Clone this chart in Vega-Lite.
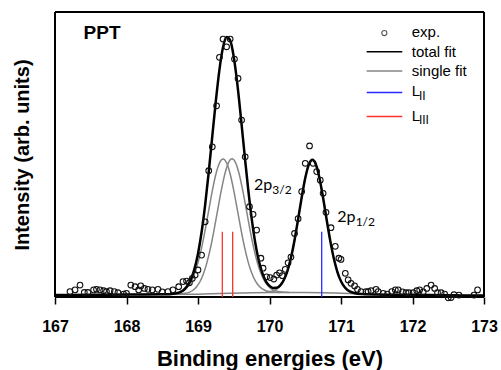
{
  "$schema": "https://vega.github.io/schema/vega-lite/v6.json",
  "width": 429,
  "height": 285,
  "autosize": {"type": "none"},
  "padding": {"left": 55, "top": 12, "right": 17, "bottom": 73},
  "background": "white",
  "config": {"view": {"stroke": null}, "font": "Liberation Sans"},
  "datasets": {
    "exp": [
      {"x":167.21,"y":1.9},{"x":167.28,"y":2.5},{"x":167.35,"y":4.2},{"x":167.41,"y":1.6},{"x":167.46,"y":1.6},
      {"x":167.54,"y":2.5},{"x":167.58,"y":2.7},{"x":167.63,"y":2.5},{"x":167.68,"y":2.2},{"x":167.72,"y":1.9},
      {"x":167.77,"y":2.2},{"x":167.83,"y":1.9},{"x":167.88,"y":1.5},{"x":167.96,"y":1.0},{"x":168.0,"y":1.3},
      {"x":168.06,"y":4.2},{"x":168.12,"y":3.6},{"x":168.17,"y":2.5},{"x":168.2,"y":3.9},{"x":168.25,"y":3.0},
      {"x":168.3,"y":2.7},{"x":168.36,"y":2.5},{"x":168.44,"y":2.7},{"x":168.5,"y":1.8},{"x":168.58,"y":1.9},
      {"x":168.65,"y":2.5},{"x":168.73,"y":3.6},{"x":168.79,"y":5.4},{"x":168.84,"y":5.6},{"x":168.88,"y":5.0},
      {"x":168.92,"y":6.5},{"x":168.96,"y":7.7},{"x":169.0,"y":9.5},{"x":169.05,"y":14.7},{"x":169.1,"y":26.4},
      {"x":169.15,"y":44.3},{"x":169.2,"y":52.7},{"x":169.26,"y":67.1},{"x":169.3,"y":84.1},{"x":169.35,"y":90.5},
      {"x":169.4,"y":87.8},{"x":169.45,"y":90.5},{"x":169.51,"y":83.5},{"x":169.56,"y":76.7},{"x":169.61,"y":62.1},
      {"x":169.66,"y":49.2},{"x":169.72,"y":31.7},{"x":169.77,"y":29.0},{"x":169.82,"y":23.5},{"x":169.88,"y":13.6},
      {"x":169.91,"y":10.1},{"x":169.96,"y":7.1},{"x":170.01,"y":6.8},{"x":170.06,"y":6.3},{"x":170.1,"y":7.7},
      {"x":170.14,"y":8.5},{"x":170.18,"y":7.5},{"x":170.22,"y":9.7},{"x":170.26,"y":12.0},{"x":170.3,"y":14.0},
      {"x":170.35,"y":22.3},{"x":170.4,"y":27.5},{"x":170.45,"y":37.0},{"x":170.5,"y":46.9},{"x":170.56,"y":53.0},
      {"x":170.61,"y":46.9},{"x":170.66,"y":44.0},{"x":170.71,"y":41.0},{"x":170.75,"y":36.4},{"x":170.79,"y":29.7},
      {"x":170.86,"y":24.3},{"x":170.92,"y":17.8},{"x":170.97,"y":13.6},{"x":171.0,"y":13.2},{"x":171.06,"y":8.3},
      {"x":171.1,"y":6.0},{"x":171.14,"y":4.8},{"x":171.19,"y":3.9},{"x":171.23,"y":2.7},{"x":171.28,"y":1.9},
      {"x":171.35,"y":1.9},{"x":171.38,"y":1.9},{"x":171.42,"y":2.2},{"x":171.49,"y":2.7},{"x":171.52,"y":1.9},
      {"x":171.59,"y":1.3},{"x":171.65,"y":1.0},{"x":171.71,"y":1.9},{"x":171.76,"y":2.5},{"x":171.8,"y":2.5},
      {"x":171.86,"y":1.8},{"x":171.91,"y":1.5},{"x":171.95,"y":1.5},{"x":172.01,"y":1.5},{"x":172.06,"y":2.2},
      {"x":172.1,"y":2.5},{"x":172.15,"y":1.8},{"x":172.2,"y":3.0},{"x":172.26,"y":4.2},{"x":172.31,"y":3.0},
      {"x":172.35,"y":1.5},{"x":172.4,"y":1.5},{"x":172.45,"y":1.0},{"x":172.5,"y":-0.3},{"x":172.54,"y":-0.2},
      {"x":172.58,"y":0.8},{"x":172.65,"y":0.7},{"x":172.86,"y":0.7},{"x":172.91,"y":2.5}
    ],
    "total": [
      {"x":167,"y":0.7},{"x":167.5,"y":0.78},{"x":168,"y":0.85},{"x":168.5,"y":0.94},{"x":168.55,"y":0.95},
      {"x":168.6,"y":1.0},{"x":168.65,"y":1.11},{"x":168.7,"y":1.3},{"x":168.75,"y":1.7},{"x":168.8,"y":2.47},
      {"x":168.85,"y":3.84},{"x":168.9,"y":6.16},{"x":168.95,"y":9.8},{"x":169,"y":15.21},{"x":169.05,"y":22.71},
      {"x":169.1,"y":32.36},{"x":169.15,"y":43.85},{"x":169.2,"y":56.43},{"x":169.25,"y":68.89},{"x":169.3,"y":79.79},
      {"x":169.35,"y":87.6},{"x":169.4,"y":91.21},{"x":169.45,"y":90.02},{"x":169.5,"y":84.26},{"x":169.55,"y":74.81},
      {"x":169.6,"y":62.99},{"x":169.65,"y":50.36},{"x":169.7,"y":38.25},{"x":169.75,"y":27.68},{"x":169.8,"y":19.15},
      {"x":169.85,"y":12.78},{"x":169.9,"y":8.36},{"x":169.95,"y":5.52},{"x":170,"y":3.91},{"x":170.05,"y":3.18},
      {"x":170.1,"y":3.22},{"x":170.15,"y":4.09},{"x":170.2,"y":5.96},{"x":170.25,"y":9.12},{"x":170.3,"y":13.76},
      {"x":170.35,"y":19.93},{"x":170.4,"y":27.25},{"x":170.45,"y":34.91},{"x":170.5,"y":41.74},{"x":170.55,"y":46.46},
      {"x":170.6,"y":48.13},{"x":170.65,"y":46.39},{"x":170.7,"y":41.6},{"x":170.75,"y":34.74},{"x":170.8,"y":27.04},
      {"x":170.85,"y":19.69},{"x":170.9,"y":13.48},{"x":170.95,"y":8.77},{"x":171,"y":5.52},{"x":171.05,"y":3.48},
      {"x":171.1,"y":2.29},{"x":171.15,"y":1.66},{"x":171.2,"y":1.33},{"x":171.3,"y":1.07},{"x":171.5,"y":0.9},
      {"x":172,"y":0.77},{"x":172.5,"y":0.63},{"x":173,"y":0.5}
    ],
    "single": [
      {"curve":"bg","x":167,"y":0.7},{"curve":"bg","x":168,"y":0.85},{"curve":"bg","x":169,"y":1.0},{"curve":"bg","x":170,"y":1.6},
      {"curve":"bg","x":170.5,"y":1.6},{"curve":"bg","x":171.5,"y":0.9},{"curve":"bg","x":173,"y":0.5},
      {"curve":"p1","x":168.55,"y":0.95},{"curve":"p1","x":168.6,"y":1.0},{"curve":"p1","x":168.65,"y":1.09},{"curve":"p1","x":168.7,"y":1.27},
      {"curve":"p1","x":168.75,"y":1.61},{"curve":"p1","x":168.8,"y":2.26},{"curve":"p1","x":168.85,"y":3.39},{"curve":"p1","x":168.9,"y":5.23},
      {"curve":"p1","x":168.95,"y":8.02},{"curve":"p1","x":169.0,"y":11.99},{"curve":"p1","x":169.05,"y":17.21},{"curve":"p1","x":169.1,"y":23.5},
      {"curve":"p1","x":169.15,"y":30.42},{"curve":"p1","x":169.2,"y":37.23},{"curve":"p1","x":169.25,"y":43.05},{"curve":"p1","x":169.3,"y":47.0},
      {"curve":"p1","x":169.35,"y":48.41},{"curve":"p1","x":169.4,"y":47.06},{"curve":"p1","x":169.45,"y":43.17},{"curve":"p1","x":169.5,"y":37.41},
      {"curve":"p1","x":169.55,"y":30.66},{"curve":"p1","x":169.6,"y":23.8},{"curve":"p1","x":169.65,"y":17.57},{"curve":"p1","x":169.7,"y":12.41},
      {"curve":"p1","x":169.75,"y":8.48},{"curve":"p1","x":169.8,"y":5.72},{"curve":"p1","x":169.85,"y":3.92},{"curve":"p1","x":169.9,"y":2.83},
      {"curve":"p1","x":169.95,"y":2.22},{"curve":"p1","x":170.0,"y":1.91},{"curve":"p1","x":170.05,"y":1.74},{"curve":"p1","x":170.1,"y":1.66},
      {"curve":"p1","x":170.15,"y":1.62},
      {"curve":"p2","x":168.675,"y":0.97},{"curve":"p2","x":168.725,"y":1.02},{"curve":"p2","x":168.775,"y":1.11},{"curve":"p2","x":168.825,"y":1.28},
      {"curve":"p2","x":168.875,"y":1.63},{"curve":"p2","x":168.925,"y":2.28},{"curve":"p2","x":168.975,"y":3.41},{"curve":"p2","x":169.025,"y":5.26},
      {"curve":"p2","x":169.075,"y":8.08},{"curve":"p2","x":169.125,"y":12.07},{"curve":"p2","x":169.175,"y":17.29},{"curve":"p2","x":169.225,"y":23.58},
      {"curve":"p2","x":169.275,"y":30.5},{"curve":"p2","x":169.325,"y":37.31},{"curve":"p2","x":169.375,"y":43.13},{"curve":"p2","x":169.425,"y":47.08},
      {"curve":"p2","x":169.475,"y":48.49},{"curve":"p2","x":169.525,"y":47.14},{"curve":"p2","x":169.575,"y":43.25},{"curve":"p2","x":169.625,"y":37.49},
      {"curve":"p2","x":169.675,"y":30.74},{"curve":"p2","x":169.725,"y":23.88},{"curve":"p2","x":169.775,"y":17.65},{"curve":"p2","x":169.825,"y":12.49},
      {"curve":"p2","x":169.875,"y":8.56},{"curve":"p2","x":169.925,"y":5.8},{"curve":"p2","x":169.975,"y":4.0},{"curve":"p2","x":170.025,"y":2.89},
      {"curve":"p2","x":170.075,"y":2.25},{"curve":"p2","x":170.125,"y":1.91},{"curve":"p2","x":170.175,"y":1.74},{"curve":"p2","x":170.225,"y":1.66},
      {"curve":"p2","x":170.275,"y":1.62},
      {"curve":"p3","x":169.95,"y":1.65},{"curve":"p3","x":170.0,"y":1.82},{"curve":"p3","x":170.05,"y":2.11},{"curve":"p3","x":170.1,"y":2.71},
      {"curve":"p3","x":170.15,"y":3.86},{"curve":"p3","x":170.2,"y":5.87},{"curve":"p3","x":170.25,"y":9.08},{"curve":"p3","x":170.3,"y":13.76},
      {"curve":"p3","x":170.35,"y":19.93},{"curve":"p3","x":170.4,"y":27.25},{"curve":"p3","x":170.45,"y":34.91},{"curve":"p3","x":170.5,"y":41.74},
      {"curve":"p3","x":170.55,"y":46.46},{"curve":"p3","x":170.6,"y":48.13},{"curve":"p3","x":170.65,"y":46.39},{"curve":"p3","x":170.7,"y":41.6},
      {"curve":"p3","x":170.75,"y":34.74},{"curve":"p3","x":170.8,"y":27.04},{"curve":"p3","x":170.85,"y":19.69},{"curve":"p3","x":170.9,"y":13.48},
      {"curve":"p3","x":170.95,"y":8.77},{"curve":"p3","x":171.0,"y":5.52},{"curve":"p3","x":171.05,"y":3.48},{"curve":"p3","x":171.1,"y":2.29},
      {"curve":"p3","x":171.15,"y":1.66},{"curve":"p3","x":171.2,"y":1.33},{"curve":"p3","x":171.25,"y":1.16}
    ],
    "levels": [
      {"level":"LIII","x":169.34,"top":22.9},
      {"level":"LIII","x":169.485,"top":22.9},
      {"level":"LII","x":170.73,"top":22.9}
    ],
    "frameSides": [{"x":167},{"x":173}],
    "frameEnds": [{"y":0},{"y":100}],
    "legendKeys": [
      {"item":"total fit","x":171.359,"x2":171.857,"y":86.07},
      {"item":"single fit","x":171.359,"x2":171.857,"y":79.3},
      {"item":"LII","x":171.359,"x2":171.857,"y":71.75},
      {"item":"LIII","x":171.359,"x2":171.857,"y":63.3}
    ],
    "legendDot": [{"item":"exp.","x":171.606,"y":92.6}],
    "legendLabels": [
      {"t":"exp.","x":171.989,"y":91.3},
      {"t":"total fit","x":171.989,"y":84.3},
      {"t":"single fit","x":171.989,"y":77.5},
      {"t":"L","x":171.989,"y":70.5},
      {"t":"L","x":171.989,"y":61.9}
    ],
    "legendSubs": [
      {"t":"II","x":172.09,"y":69.1},
      {"t":"III","x":172.09,"y":60.6}
    ],
    "sample": [{"t":"PPT","x":167.40,"y":90.7}],
    "peakLabels": [
      {"t":"2p","x":169.783,"y":37.6},
      {"t":"2p","x":170.948,"y":26.2}
    ],
    "peakSubs": [
      {"t":"3/2","x":170.04,"y":36.1},
      {"t":"1/2","x":171.205,"y":24.8}
    ]
  },
  "layer": [
    {
      "data": {"name": "single"},
      "mark": {"type": "line", "color": "#858585", "strokeWidth": 1.5, "interpolate": "monotone"},
      "encoding": {
        "x": {
          "field": "x", "type": "quantitative",
          "scale": {"domain": [167, 173], "nice": false, "zero": false, "padding": 0},
          "axis": {
            "values": [167,167.5,168,168.5,169,169.5,170,170.5,171,171.5,172,172.5,173],
            "labelExpr": "datum.value % 1 === 0 ? datum.label : ''",
            "format": "d",
            "tickSize": {"condition": {"test": "datum.value % 1 === 0", "value": 7}, "value": 4},
            "tickColor": "black", "tickWidth": 1.5,
            "domain": false, "grid": false,
            "labelFont": "Liberation Sans", "labelFontWeight": "bold", "labelFontSize": 16, "labelColor": "black",
            "labelPadding": 14, "labelFlush": false, "labelOverlap": false,
            "title": "Binding energies (eV)",
            "titleFont": "Liberation Sans", "titleFontSize": 22, "titleFontWeight": "bold", "titleColor": "black",
            "titlePadding": 14
          }
        },
        "y": {
          "field": "y", "type": "quantitative",
          "scale": {"domain": [0, 100], "nice": false, "zero": false, "padding": 0},
          "axis": {
            "title": "Intensity (arb. units)", "ticks": false, "labels": false, "domain": false, "grid": false,
            "titleFont": "Liberation Sans", "titleFontSize": 20, "titleFontWeight": "bold", "titleColor": "black",
            "titlePadding": 23
          }
        },
        "detail": {"field": "curve", "type": "nominal"}
      }
    },
    {
      "data": {"name": "frameSides"},
      "mark": {"type": "rule", "color": "black", "strokeWidth": 2},
      "encoding": {"x": {"field": "x", "type": "quantitative"}}
    },
    {
      "data": {"name": "frameEnds"},
      "mark": {"type": "rule", "color": "black", "strokeWidth": 2},
      "encoding": {"y": {"field": "y", "type": "quantitative"}}
    },
    {
      "data": {"name": "total"},
      "mark": {"type": "line", "color": "black", "strokeWidth": 2.5, "interpolate": "monotone"},
      "encoding": {
        "x": {"field": "x", "type": "quantitative"},
        "y": {"field": "y", "type": "quantitative"}
      }
    },
    {
      "data": {"name": "levels"},
      "mark": {"type": "bar", "width": 1.3},
      "encoding": {
        "x": {"field": "x", "type": "quantitative"},
        "y": {"field": "top", "type": "quantitative"},
        "color": {"field": "level", "type": "nominal", "scale": {"domain": ["LII", "LIII", "total fit", "single fit"], "range": ["#2a2aff", "#ff3030", "black", "#858585"]}, "legend": null}
      }
    },
    {
      "data": {"name": "exp"},
      "mark": {"type": "point", "shape": "circle", "filled": false, "size": 32, "stroke": "#111111", "strokeWidth": 1.1, "opacity": 1},
      "encoding": {
        "x": {"field": "x", "type": "quantitative"},
        "y": {"field": "y", "type": "quantitative"}
      }
    },
    {
      "data": {"name": "legendKeys"},
      "mark": {"type": "rule", "strokeWidth": 1.5},
      "encoding": {
        "x": {"field": "x", "type": "quantitative"},
        "x2": {"field": "x2"},
        "y": {"field": "y", "type": "quantitative"},
        "color": {"field": "item", "type": "nominal", "legend": null},
        "strokeWidth": {"condition": {"test": "datum.item === 'total fit'", "value": 2.5}, "value": 1.4}
      }
    },
    {
      "data": {"name": "legendDot"},
      "mark": {"type": "point", "shape": "circle", "filled": false, "size": 26, "stroke": "#111111", "strokeWidth": 1.1},
      "encoding": {
        "x": {"field": "x", "type": "quantitative"},
        "y": {"field": "y", "type": "quantitative"}
      }
    },
    {
      "data": {"name": "legendLabels"},
      "mark": {"type": "text", "font": "Liberation Sans", "fontSize": 15, "align": "left", "baseline": "alphabetic", "color": "black"},
      "encoding": {
        "x": {"field": "x", "type": "quantitative"},
        "y": {"field": "y", "type": "quantitative"},
        "text": {"field": "t"}
      }
    },
    {
      "data": {"name": "legendSubs"},
      "mark": {"type": "text", "font": "Liberation Sans", "fontSize": 12, "align": "left", "baseline": "alphabetic", "color": "black"},
      "encoding": {
        "x": {"field": "x", "type": "quantitative"},
        "y": {"field": "y", "type": "quantitative"},
        "text": {"field": "t"}
      }
    },
    {
      "data": {"name": "sample"},
      "mark": {"type": "text", "font": "Liberation Sans", "fontWeight": "bold", "fontSize": 19, "align": "left", "baseline": "alphabetic", "color": "black"},
      "encoding": {
        "x": {"field": "x", "type": "quantitative"},
        "y": {"field": "y", "type": "quantitative"},
        "text": {"field": "t"}
      }
    },
    {
      "data": {"name": "peakLabels"},
      "mark": {"type": "text", "font": "Lato", "fontSize": 16, "align": "left", "baseline": "alphabetic", "color": "black"},
      "encoding": {
        "x": {"field": "x", "type": "quantitative"},
        "y": {"field": "y", "type": "quantitative"},
        "text": {"field": "t"}
      }
    },
    {
      "data": {"name": "peakSubs"},
      "mark": {"type": "text", "font": "Lato", "fontSize": 12, "align": "left", "baseline": "alphabetic", "color": "black"},
      "encoding": {
        "x": {"field": "x", "type": "quantitative"},
        "y": {"field": "y", "type": "quantitative"},
        "text": {"field": "t"}
      }
    }
  ]
}
